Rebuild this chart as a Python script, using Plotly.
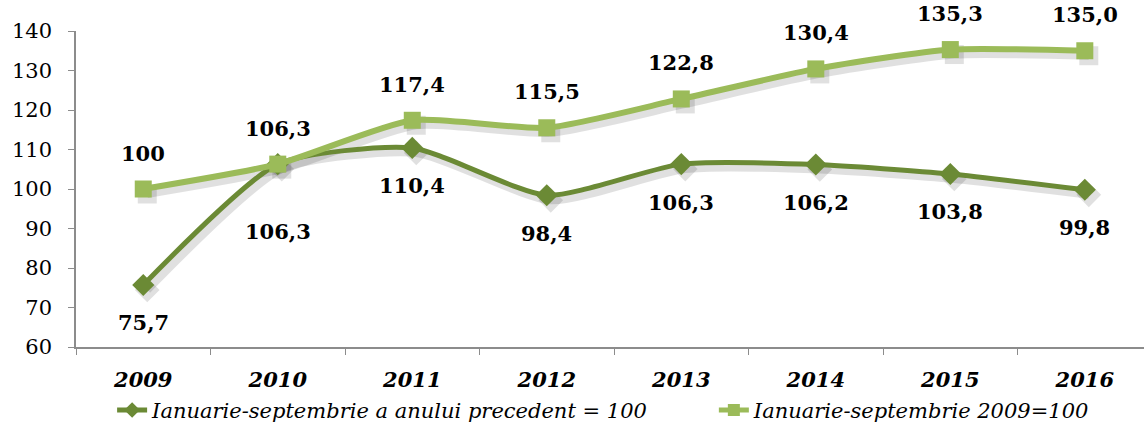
import plotly.graph_objects as go

years = ["2009", "2010", "2011", "2012", "2013", "2014", "2015", "2016"]
prev_year = [75.7, 106.3, 110.4, 98.4, 106.3, 106.2, 103.8, 99.8]
base_2009 = [100, 106.3, 117.4, 115.5, 122.8, 130.4, 135.3, 135.0]
prev_labels = ["75,7", "106,3", "110,4", "98,4", "106,3", "106,2", "103,8", "99,8"]
base_labels = ["100", "106,3", "117,4", "115,5", "122,8", "130,4", "135,3", "135,0"]
name_prev = "Ianuarie-septembrie a anului precedent = 100"
name_base = "Ianuarie-septembrie 2009=100"

DARK = "#6B8A35"
LIGHT = "#9BBB59"
SERIF = "DejaVu Serif"

W, H = 1144, 423
ML, MR, MT, MB = 76, 0, 31, 76
plot_w = W - ML - MR
plot_h = H - MT - MB
X_RANGE = [-0.5, 7.44]
Y_RANGE = [60, 140]

fig = go.Figure()

# soft shadow: same series drawn first on a hidden axis pair whose range is nudged
sx = 4 * (X_RANGE[1] - X_RANGE[0]) / plot_w
sy = 5 * (Y_RANGE[1] - Y_RANGE[0]) / plot_h
for vals, sym in [(prev_year, "diamond"), (base_2009, "square")]:
    fig.add_trace(go.Scatter(
        x=years, y=vals, xaxis="x", yaxis="y", mode="lines+markers",
        line=dict(color="rgba(0,0,0,0.12)", width=8, shape="spline", smoothing=0.6),
        marker=dict(symbol=sym, size=19, color="rgba(0,0,0,0.12)"),
        showlegend=False, hoverinfo="skip"))

fig.add_trace(go.Scatter(
    x=years, y=prev_year, name="<i>" + name_prev + "</i>", mode="lines+markers",
    xaxis="x2", yaxis="y2", legend="legend",
    line=dict(color=DARK, width=5, shape="spline", smoothing=0.6),
    marker=dict(symbol="diamond", size=17, color=DARK)))
fig.add_trace(go.Scatter(
    x=years, y=base_2009, name="<i>" + name_base + "</i>", mode="lines+markers",
    xaxis="x2", yaxis="y2", legend="legend2",
    line=dict(color=LIGHT, width=6, shape="spline", smoothing=0.6),
    marker=dict(symbol="square", size=17, color=LIGHT)))

# data labels (category axis -> position by index)
lab_font = dict(family=SERIF, size=21, color="#000000")
for i in range(len(years)):
    shift = -67 if i == 1 else -38
    fig.add_annotation(x=i, y=prev_year[i], xref="x2", yref="y2",
                       text="<b>" + prev_labels[i] + "</b>",
                       showarrow=False, yshift=shift, font=lab_font)
    fig.add_annotation(x=i, y=base_2009[i], xref="x2", yref="y2",
                       text="<b>" + base_labels[i] + "</b>",
                       showarrow=False, yshift=36, font=lab_font)

axis_grey = "#8C8C8C"
leg_common = dict(orientation="h", xanchor="left", yanchor="middle",
                  xref="container", yref="container", y=0.03,
                  font=dict(family=SERIF, size=21, color="#000000"),
                  bgcolor="rgba(0,0,0,0)", itemsizing="constant",
                  borderwidth=0)
fig.update_layout(
    width=W, height=H,
    margin=dict(l=ML, r=MR, t=MT, b=MB, autoexpand=False),
    paper_bgcolor="white", plot_bgcolor="rgba(0,0,0,0)",
    font=dict(family=SERIF, size=20, color="#000000"),
    showlegend=True,
    legend=dict(x=0.098, **leg_common),
    legend2=dict(x=0.624, **leg_common),
    xaxis=dict(type="category", range=[X_RANGE[0] - sx, X_RANGE[1] - sx],
               anchor="y", visible=False, automargin=False),
    yaxis=dict(range=[Y_RANGE[0] + sy, Y_RANGE[1] + sy], anchor="x",
               visible=False, automargin=False),
    xaxis2=dict(type="category", range=X_RANGE, anchor="y2",
                tickson="boundaries", automargin=False,
                ticks="outside", ticklen=6, tickcolor=axis_grey,
                showline=True, linecolor=axis_grey, linewidth=1.5,
                showgrid=False, zeroline=False, ticklabelstandoff=13,
                tickfont=dict(family=SERIF, size=21, color="#000000"),
                ticktext=["<b><i>" + y + "</i></b>" for y in years], tickvals=years),
    yaxis2=dict(range=Y_RANGE, dtick=10, anchor="x2",
                ticks="outside", ticklen=6, automargin=False,
                tickcolor=axis_grey, showline=True, linecolor=axis_grey,
                linewidth=1.5, showgrid=False, zeroline=False,
                ticklabelstandoff=12,
                tickfont=dict(family=SERIF, size=21, color="#000000")),
)

fig.write_html("out.html", config={"displayModeBar": False},
               post_script="document.body.style.margin='0';")
